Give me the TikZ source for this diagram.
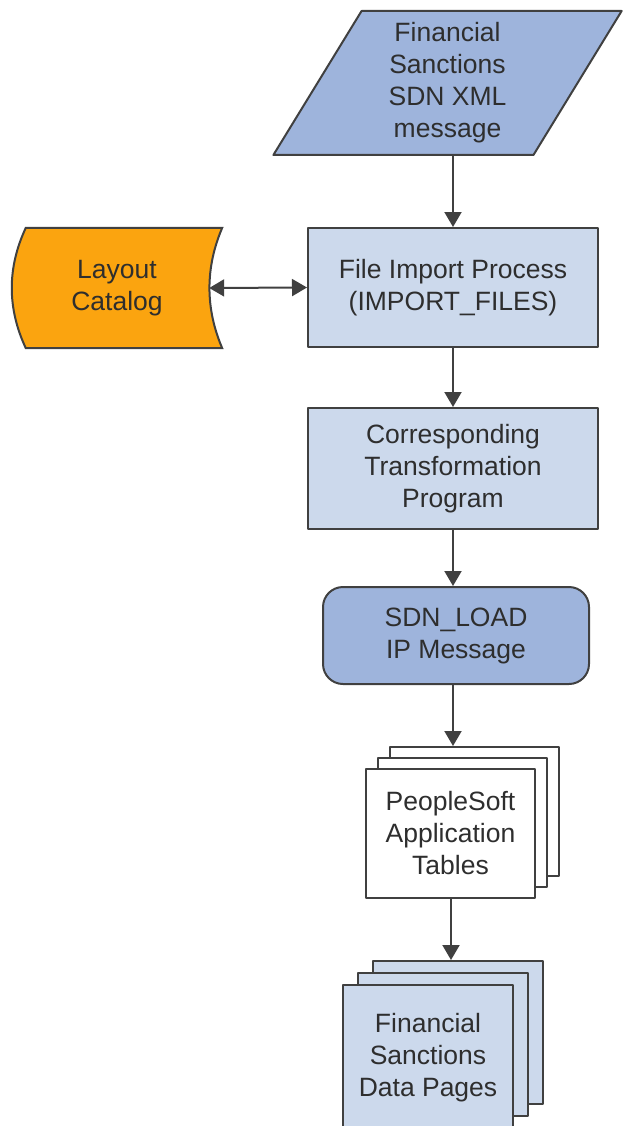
\documentclass[tikz,border=0pt]{standalone}
\usepackage{fontspec}
\setmainfont{Liberation Sans}
\usetikzlibrary{shapes.geometric,shadows,arrows.meta,backgrounds}
\definecolor{msgblue}{HTML}{9EB4DC}
\definecolor{boxblue}{HTML}{CCD9EC}
\definecolor{catorange}{HTML}{FBA40F}
\definecolor{linegray}{HTML}{404040}
\definecolor{textgray}{HTML}{2E2E2E}
\begin{document}
\begin{tikzpicture}
	[
		x=1pt,
		y=-1pt,
		line join=round,
		>={Triangle[width=17pt,length=15pt]},
		every node/.style={font=\fontsize{26.5}{32}\selectfont, text=textgray, align=center, inner sep=0pt},
		box/.style={draw=linegray, line width=2pt, fill=boxblue},
		flow/.style={->, line width=2pt, color=linegray}
	]
		\useasboundingbox (0,0) rectangle (624,1126);
		\clip (0,0) rectangle (624,1126);
		\node[shape=trapezium, trapezium left angle=63.4, trapezium right angle=116.6, trapezium stretches=true, draw=linegray, line width=2pt, fill=msgblue, minimum width=349pt, minimum height=144pt] (msg) at (447.5,83) {Financial\\Sanctions\\SDN XML\\message};
		\node[box, minimum width=290pt, minimum height=119pt] (imp) at (453,287.5) {File Import Process\\(IMPORT\_FILES)};
		\node[minimum width=210pt, minimum height=120pt] (cat) at (117,288) {Layout\\Catalog};
		\begin{scope}[on background layer]
			\draw [line width=2pt, draw=linegray, fill=catorange] ([xshift=14pt]cat.north west) -- (cat.north east) .. controls ([xshift=-17pt,yshift=-40pt]cat.north east) and ([xshift=-17pt,yshift=40pt]cat.south east) .. (cat.south east) -- ([xshift=14pt]cat.south west) .. controls ([xshift=-4.7pt,yshift=40pt]cat.south west) and ([xshift=-4.7pt,yshift=-40pt]cat.north west) .. ([xshift=14pt]cat.north west) -- cycle;
		\end{scope}
		\coordinate (catin) at ([xshift=-13pt]cat.east);
		\node[box, minimum width=290pt, minimum height=121pt] (trans) at (453,468.5) {Corresponding\\Transformation\\Program};
		\node[draw=linegray, line width=2pt, fill=msgblue, rounded corners=20pt, minimum width=266pt, minimum height=97pt] (load) at (456,635.5) {SDN\_LOAD\\IP Message};
		\node[draw=linegray, line width=2pt, fill=white, minimum width=169pt, minimum height=129pt, double copy shadow={shadow xshift=12pt, shadow yshift=11pt, draw=linegray, fill=white, line width=2pt}] (ps) at (450.5,833.5) {PeopleSoft\\Application\\Tables};
		\node[box, minimum width=170pt, minimum height=143pt, double copy shadow={shadow xshift=15pt, shadow yshift=12pt, draw=linegray, fill=boxblue, line width=2pt}, text depth=0pt] (pages) at (428,1056.5) {\raisebox{38pt}{\begin{tabular}{@{}c@{}}Financial\\Sanctions\\Data Pages\end{tabular}}};
		\coordinate (pstop) at ([yshift=22pt]ps.north);
		\coordinate (pagestop) at ([yshift=24pt]pages.north);
		\draw [flow] (msg.south -| imp.north) -- (imp.north);
		\draw [<->, line width=2pt, color=linegray] (catin) -- (imp.west);
		\draw [flow] (imp.south) -- (trans.north);
		\draw [flow] (trans.south) -- (trans.south |- load.north);
		\draw [flow] (load.south -| trans.south) -- (pstop -| trans.south);
		\draw [flow] (ps.south -| 451,0) -- (pagestop -| 451,0);
\end{tikzpicture}
\end{document}
